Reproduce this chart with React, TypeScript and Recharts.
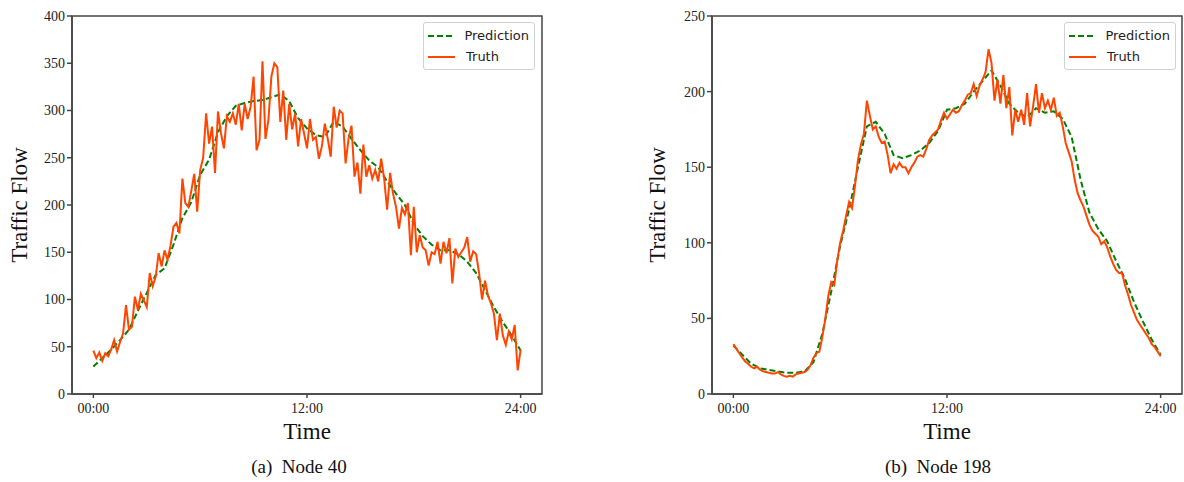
import React from 'react';
import { LineChart, Line, XAxis, YAxis, ReferenceArea, Legend } from 'recharts';

// truth sampled every 10 minutes, prediction every 30 minutes
const truthNode40 = [
  46, 38, 44, 35, 43, 40, 47, 57, 45, 55, 64, 94, 68, 71, 103, 89, 106, 99, 92, 128,
  114, 124, 149, 135, 152, 142, 157, 177, 181, 170, 228, 202, 198, 215, 233, 193, 237, 250, 297, 265,
  283, 234, 299, 276, 260, 294, 288, 297, 285, 307, 279, 307, 291, 304, 336, 258, 269, 352, 270, 290,
  336, 350, 346, 288, 321, 269, 307, 280, 297, 262, 291, 276, 260, 291, 269, 272, 249, 262, 286, 270,
  251, 304, 282, 300, 297, 244, 270, 284, 230, 245, 212, 264, 230, 242, 228, 237, 225, 249, 228, 195,
  234, 212, 198, 175, 197, 190, 202, 147, 198, 150, 168, 155, 152, 136, 150, 148, 161, 138, 161, 149,
  165, 117, 154, 145, 150, 155, 166, 140, 151, 148, 128, 100, 120, 104, 96, 85, 57, 85, 62, 52,
  66, 58, 73, 25, 47,
];
const predNode40 = [
  29, 38, 47, 57, 68, 88, 107, 126, 133, 158, 186, 203, 232, 248, 277, 294, 305, 308, 310, 311,
  314, 317, 310, 292, 281, 274, 272, 288, 283, 270, 258, 247, 240, 225, 212, 200, 180, 167, 158, 152,
  152, 148, 140, 128, 110, 92, 76, 62, 46,
];

const truthNode198 = [
  33, 30, 27, 24, 21.5, 20, 18, 17, 18, 16, 15, 14.5, 14, 13.5, 13.5, 14.5, 13, 12, 11.5, 12,
  11.5, 13, 13.5, 14, 14.5, 16, 19, 24, 27, 28, 38, 50, 65, 74, 72, 88, 100, 108, 118, 127,
  123, 138, 155, 165, 172, 194, 184, 175, 177, 170, 166, 167, 158, 146, 152, 149, 153, 150, 150, 146,
  150, 153, 157, 158, 157, 162, 168, 171, 173, 175, 181, 186, 182, 185, 188, 186, 187, 191, 194, 198,
  199, 205, 197, 204, 208, 213, 228, 219, 194, 208, 192, 211, 189, 203, 171, 188, 180, 188, 178, 199,
  177, 190, 205, 186, 199, 189, 194, 188, 196, 184, 186, 177, 166, 160, 154, 142, 133, 128, 124, 118,
  112, 108, 106, 104, 99, 101, 97, 91, 86, 82, 80, 80, 72, 66, 59, 54, 49, 46, 43, 40,
  37, 33, 31, 28, 25,
];
const predNode198 = [
  32, 26, 20, 17, 16, 15, 14, 14, 15, 21, 40, 68, 98, 122, 150, 177, 180, 172, 158, 156,
  158, 161, 166, 174, 188, 189, 192, 200, 207, 214, 204, 192, 186, 183, 189, 186, 187, 182, 170, 142,
  120, 109, 101, 88, 76, 61, 48, 36, 26,
];

const hourTicks = [0, 12, 24];
const ticksNode40 = [0, 50, 100, 150, 200, 250, 300, 350, 400];
const ticksNode198 = [0, 50, 100, 150, 200, 250];

const TRUTH = '#ff4500';
const PRED = '#008000';
const AXIS = '#444';
const serif = '"Liberation Serif", "Times New Roman", serif';

const fmtHour = (h: number) => `${String(h).padStart(2, '0')}:00`;

const LegendBox = () => (
  <div
    style={{
      border: '1px solid #d0d0d0',
      borderRadius: 3,
      background: 'rgba(255,255,255,0.85)',
      padding: '2px 5px 2px 4px',
      fontFamily: '"DejaVu Sans", sans-serif',
      fontSize: 13,
      color: '#222',
      width: 101,
    }}
  >
    {[
      { name: 'Prediction', color: PRED, dash: '6 3' },
      { name: 'Truth', color: TRUTH, dash: undefined },
    ].map(item => (
      <div key={item.name} style={{ display: 'flex', alignItems: 'center', height: 21 }}>
        <svg width={27} height={6} style={{ marginRight: 11 }}>
          <line x1={0} y1={3} x2={27} y2={3} stroke={item.color} strokeWidth={2} strokeDasharray={item.dash} />
        </svg>
        <span>{item.name}</span>
      </div>
    ))}
  </div>
);

interface PanelProps {
  x: number;
  width: number;
  truth: number[];
  pred: number[];
  yMax: number;
  yTicks: number[];
  legendLeft: number;
}

const Panel: React.FC<PanelProps> = ({ x, width, truth, pred, yMax, yTicks, legendLeft }) => {
  const truthData = truth.map((v, i) => ({ h: i / 6, v }));
  const predData = pred.map((v, i) => ({ h: i / 2, v }));
  return (
    <div style={{ position: 'absolute', left: x, top: 0 }}>
      <LineChart width={width} height={440} margin={{ top: 16, right: width - 470 - 72, left: 22, bottom: 16 }}>
        <XAxis
          dataKey="h"
          type="number"
          domain={[-1.2, 25.2]}
          ticks={hourTicks}
          tickFormatter={fmtHour}
          allowDataOverflow
          height={30}
          stroke={AXIS}
          strokeWidth={1.5}
          tickSize={4}
          tickMargin={5}
          tick={{ fill: '#222', fontSize: 14, fontFamily: serif }}
        />
        <YAxis
          type="number"
          domain={[0, yMax]}
          ticks={yTicks}
          allowDataOverflow
          width={50}
          stroke={AXIS}
          strokeWidth={1.5}
          tickSize={5}
          tickMargin={2}
          tick={{ fill: '#222', fontSize: 14, fontFamily: serif }}
        />
        <ReferenceArea x1={-1.2} x2={25.2} y1={0} y2={yMax} fill="none" stroke={AXIS} strokeWidth={1.5} />
        <Line
          data={predData}
          dataKey="v"
          type="linear"
          stroke={PRED}
          strokeWidth={2}
          strokeDasharray="6 3"
          dot={false}
          isAnimationActive={false}
        />
        <Line
          data={truthData}
          dataKey="v"
          type="linear"
          stroke={TRUTH}
          strokeWidth={2}
          dot={false}
          isAnimationActive={false}
        />
        <Legend
          layout="vertical"
          align="center"
          verticalAlign="middle"
          content={() => <LegendBox />}
          wrapperStyle={{ position: 'absolute', top: 22, left: legendLeft, width: 'auto' }}
        />
      </LineChart>
    </div>
  );
};

const textStyle: React.CSSProperties = {
  position: 'absolute',
  fontFamily: serif,
  color: '#111',
  whiteSpace: 'pre',
  transform: 'translate(-50%, -50%)',
};

export default function App() {
  return (
    <div style={{ position: 'absolute', left: 0, top: 0, width: 1184, height: 482, overflow: 'hidden', background: '#fff' }}>
      <Panel x={0} width={600} truth={truthNode40} pred={predNode40} yMax={400} yTicks={ticksNode40} legendLeft={423} />
      <Panel x={640} width={544} truth={truthNode198} pred={predNode198} yMax={250} yTicks={ticksNode198} legendLeft={424} />

      <div style={{ ...textStyle, left: 20, top: 205, fontSize: 23, transform: 'translate(-50%, -50%) rotate(-90deg)' }}>Traffic Flow</div>
      <div style={{ ...textStyle, left: 658, top: 205, fontSize: 23, transform: 'translate(-50%, -50%) rotate(-90deg)' }}>Traffic Flow</div>
      <div style={{ ...textStyle, left: 307, top: 432, fontSize: 23 }}>Time</div>
      <div style={{ ...textStyle, left: 947, top: 432, fontSize: 23 }}>Time</div>
      <div style={{ ...textStyle, left: 299, top: 467, fontSize: 19 }}>(a)  Node 40</div>
      <div style={{ ...textStyle, left: 938, top: 467, fontSize: 19 }}>(b)  Node 198</div>
    </div>
  );
}
